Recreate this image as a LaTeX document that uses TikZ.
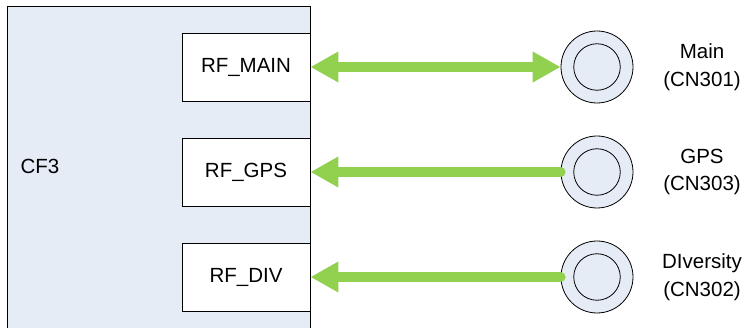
\documentclass[tikz,border=0pt]{standalone}
\usepackage{fontspec}
\setmainfont{Liberation Sans}
\usetikzlibrary{arrows.meta}
\definecolor{boardfill}{HTML}{E6ECF6}
\definecolor{feedgreen}{HTML}{92D050}
\begin{document}
\begin{tikzpicture}[x=1pt,y=-1pt,
    every node/.style={font=\fontsize{20.5}{27.5}\selectfont},
    rfbox/.style={draw, line width=0.9pt, fill=white, minimum width=128pt, minimum height=68pt, inner sep=0pt},
    jack/.style={circle, draw, line width=0.8pt, fill=boardfill, minimum size=72pt, inner sep=0pt},
    jackin/.style={circle, draw, line width=0.8pt, minimum size=46.5pt, inner sep=0pt},
    feed/.style={feedgreen, line width=10pt},
    tip/.style={-{Triangle[length=28pt,width=29pt]}}]
    \clip (0,0) rectangle (744,328);
    % board
    \draw[line width=1pt, fill=boardfill] (7,7) rectangle (310,340);
    \node[anchor=west] (cf) at (17,166) {CF3};
    
    % RF ports
    \node[rfbox] (rfmain) at (246,67) {RF\_MAIN};
    \node[rfbox] (rfgps) at (246,172) {RF\_GPS};
    \node[rfbox] (rfdiv) at (246,277) {RF\_DIV};
    
    % antenna jacks
    \node[jack] (main) at (597,67) {};
    \node[jackin] (mainin) at (main) {};
    \node[jack] (gps) at (597,172) {};
    \node[jackin] (gpsin) at (gps) {};
    \node[jack] (div) at (597,277) {};
    \node[jackin] (divin) at (div) {};
    
    \node[align=center] (mainlbl) at (702,67) {Main\\(CN301)};
    \node[align=center] (gpslbl) at (702,172) {GPS\\(CN303)};
    \node[align=center] (divlbl) at (702,277) {DIversity\\(CN302)};
    
    % feed lines
    \draw[feed, {Triangle[length=28pt,width=29pt]}-{Triangle[length=28pt,width=29pt]}] (rfmain.east) -- (main.west);
    \draw[feed, tip, line cap=round] (gps.west) -- (rfgps.east);
    \draw[feed, tip, line cap=round] (div.west) -- (rfdiv.east);
\end{tikzpicture}
\end{document}
